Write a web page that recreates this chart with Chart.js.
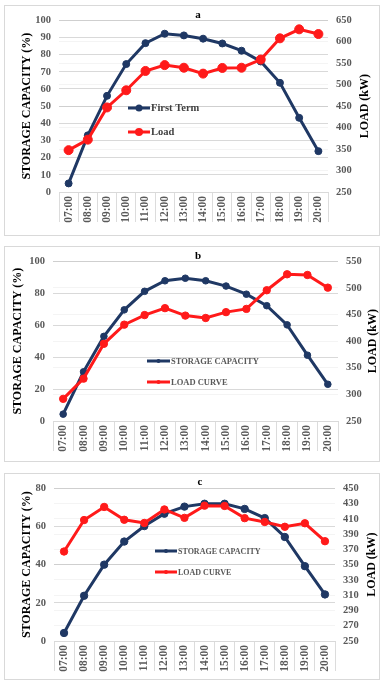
<!DOCTYPE html>
<html>
<head>
<meta charset="utf-8">
<script src="https://cdn.jsdelivr.net/npm/chart.js@4"></script>
<style>
  body { margin: 0; background: #fff; }
  .panel { position: absolute; left: 4px; width: 374px; border: 1px solid #d9d9d9; background: #fff; }
  .panel canvas { display: block; }
</style>
</head>
<body>
<div class="panel" style="top:5px;height:229px"><canvas id="chartA" width="374" height="229"></canvas></div>
<div class="panel" style="top:246px;height:214px"><canvas id="chartB" width="374" height="214"></canvas></div>
<div class="panel" style="top:473px;height:205px"><canvas id="chartC" width="374" height="205"></canvas></div>
<script>
const hours = ["07:00", "08:00", "09:00", "10:00", "11:00", "12:00", "13:00",
  "14:00", "15:00", "16:00", "17:00", "18:00", "19:00", "20:00"];

// panel a
const capacityA = [5, 33, 56, 74.5, 86.7, 92.2, 91.2, 89.3, 86.5, 82.3, 76, 63.6, 43.2, 23.8];
const loadA = [347.5, 372, 447, 487, 532, 545.6, 539.5, 525.8, 539, 539.5, 558.6, 608, 629, 618];
const capTicksA = [0, 100, 10];
const loadTicksA = [250, 650, 50];
const namesA = ["First Term", "Load"];

// panel b
const capacityB = [4.3, 30.8, 53, 69.6, 81.2, 87.8, 89.4, 87.8, 84.5, 79.4, 72.2, 60.2, 41.2, 23];
const loadB = [291.6, 329.6, 395, 431, 449, 462, 448, 443.5, 454.5, 460.6, 495.6, 525.6, 524.3, 500.5];
const capTicksB = [0, 100, 20];
const loadTicksB = [250, 550, 50];
const namesB = ["STORAGE CAPACITY", "LOAD CURVE"];

// panel c
const capacityC = [4.2, 23.7, 40, 52.1, 60.2, 66.7, 70.4, 71.9, 71.9, 69.2, 64.4, 54.5, 39.2, 24.4];
const loadC = [367.2, 408.4, 425.6, 408.8, 404.6, 422.3, 411.3, 427.3, 426.9, 410.9, 405.9, 399.6, 404.2, 380.7];
const capTicksC = [0, 80, 20];
const loadTicksC = [250, 450, 20];
const namesC = ["STORAGE CAPACITY", "LOAD CURVE"];

const capTitle = "STORAGE CAPACITY (%)";
const loadTitle = "LOAD (kW)";

const SERIF = "'Liberation Serif', 'Times New Roman', serif";
const BLUE = "#1f3864";
const RED = "#ff1a1a";
const TICK_GRAY = "#595959";

// title letter, right axis title (reads upward) and the in-plot legend
const overlay = {
  id: "overlay",
  afterDraw(chart, args, o) {
    const ctx = chart.ctx;
    const area = chart.chartArea;
    ctx.save();
    ctx.fillStyle = "#000";
    ctx.font = "bold 11px " + SERIF;
    ctx.textAlign = "center";
    ctx.textBaseline = "middle";
    ctx.fillText(o.letter, o.letterX, o.letterY);

    ctx.save();
    ctx.translate(o.rightTitleX, (area.top + area.bottom) / 2);
    ctx.rotate(-Math.PI / 2);
    ctx.font = "bold 12px " + SERIF;
    ctx.fillText(loadTitle, 0, 0);
    ctx.restore();

    chart.data.datasets.forEach((ds, i) => {
      const y = o.legendY[i];
      ctx.strokeStyle = ds.borderColor;
      ctx.lineWidth = 3;
      ctx.beginPath();
      ctx.moveTo(o.legendX0, y);
      ctx.lineTo(o.legendX1, y);
      ctx.stroke();
      ctx.fillStyle = ds.borderColor;
      ctx.beginPath();
      ctx.arc((o.legendX0 + o.legendX1) / 2, y, o.legendDot[i], 0, Math.PI * 2);
      ctx.fill();
      ctx.fillStyle = o.legendColor;
      ctx.font = o.legendFont;
      ctx.textAlign = "left";
      ctx.fillText(ds.label, o.legendX1 + 1, y + 0.5);
    });
    ctx.restore();
  }
};

function makeChart(id, names, capacity, load, capTicks, loadTicks, lay) {
  return new Chart(document.getElementById(id), {
    type: "line",
    data: {
      labels: hours,
      datasets: [
        {
          label: names[0], data: capacity, yAxisID: "yCap",
          borderColor: BLUE, backgroundColor: BLUE,
          borderWidth: 3, pointRadius: lay.blueDot, pointBorderWidth: 1,
          tension: 0, order: 1,
        },
        {
          label: names[1], data: load, yAxisID: "yLoad",
          borderColor: RED, backgroundColor: RED,
          borderWidth: 3, pointRadius: lay.redDot, pointBorderWidth: 1,
          tension: 0, order: 0,
        },
      ],
    },
    options: {
      responsive: false,
      animation: false,
      devicePixelRatio: 1,
      layout: { padding: { top: lay.top, left: 0, right: 0, bottom: 0 } },
      plugins: {
        legend: { display: false },
        tooltip: { enabled: false },
        overlay: lay.overlay,
      },
      scales: {
        x: {
          offset: true,
          grid: { offset: true, drawOnChartArea: false, tickLength: 30, color: "#dcdcdc" },
          border: { color: "#d9d9d9" },
          ticks: {
            autoSkip: false, minRotation: 90, maxRotation: 90, padding: -26,
            color: TICK_GRAY, font: { family: SERIF, size: 11.5, weight: "bold" },
          },
          afterFit: (s) => { s.height = lay.bottomH; },
        },
        yCap: {
          position: "left", min: capTicks[0], max: capTicks[1],
          ticks: { stepSize: capTicks[2], autoSkip: false, padding: 8, color: TICK_GRAY, font: { family: SERIF, size: 10.5, weight: "bold" } },
          grid: { color: "#d9d9d9", drawTicks: false },
          border: { display: false },
          title: {
            display: true, text: capTitle, color: "#000",
            font: { family: SERIF, size: 12, weight: "bold" },
            padding: { top: lay.leftTitlePad, bottom: 0 },
          },
          afterFit: (s) => { s.width = lay.leftW; },
        },
        yLoad: {
          position: "right", min: loadTicks[0], max: loadTicks[1],
          ticks: { stepSize: loadTicks[2], autoSkip: false, padding: 8, color: TICK_GRAY, font: { family: SERIF, size: 10.5, weight: "bold" } },
          grid: { color: "rgba(0,0,0,0.045)", drawTicks: false },
          border: { display: false },
          afterFit: (s) => { s.width = lay.rightW; },
        },
      },
    },
    plugins: [overlay],
  });
}

makeChart("chartA", namesA, capacityA, loadA, capTicksA, loadTicksA, {
  top: 11, bottomH: 43, leftW: 54, rightW: 51, leftTitlePad: 15, blueDot: 3.5, redDot: 4.5,
  overlay: {
    letter: "a", letterX: 193, letterY: 9, rightTitleX: 360,
    legendX0: 123, legendX1: 145, legendY: [102, 126], legendDot: [3.5, 4],
    legendFont: "bold 10.5px " + SERIF, legendColor: "#404040",
  },
});

makeChart("chartB", namesB, capacityB, loadB, capTicksB, loadTicksB, {
  top: 10, bottomH: 40, leftW: 48, rightW: 41, leftTitlePad: 6, blueDot: 3.3, redDot: 3.7,
  overlay: {
    letter: "b", letterX: 193, letterY: 9, rightTitleX: 368,
    legendX0: 142, legendX1: 165, legendY: [114, 135], legendDot: [2, 2],
    legendFont: "bold 8.5px " + SERIF, legendColor: TICK_GRAY,
  },
});

makeChart("chartC", namesC, capacityC, loadC, capTicksC, loadTicksC, {
  top: 8, bottomH: 38, leftW: 49, rightW: 44, leftTitlePad: 15, blueDot: 3.7, redDot: 3.7,
  overlay: {
    letter: "c", letterX: 195, letterY: 8, rightTitleX: 367,
    legendX0: 150, legendX1: 172, legendY: [77, 98], legendDot: [2, 2],
    legendFont: "bold 8px " + SERIF, legendColor: TICK_GRAY,
  },
});
</script>
</body>
</html>
